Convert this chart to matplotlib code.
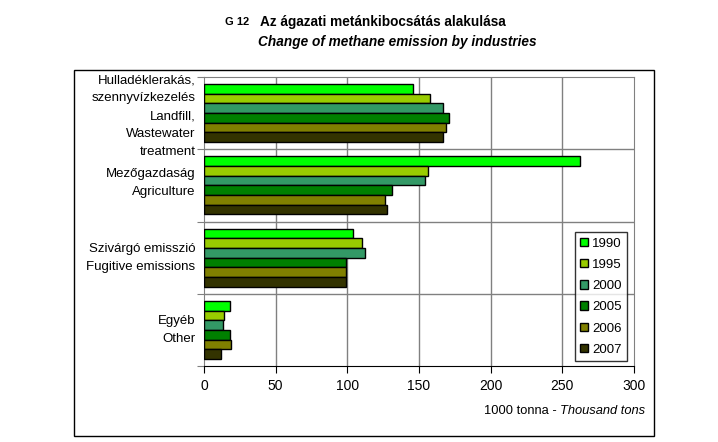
import numpy as np
import matplotlib.pyplot as plt
from matplotlib.patches import Rectangle

plt.rcParams['font.family'] = ['Liberation Sans', 'DejaVu Sans']

# Categories, top to bottom
categories = [
    "Hulladéklerakás,\nszennyvízkezelés\nLandfill,\nWastewater\ntreatment",
    "Mezőgazdaság\nAgriculture",
    "Szivárgó emisszió\nFugitive emissions",
    "Egyéb\nOther",
]
years = ["1990", "1995", "2000", "2005", "2006", "2007"]
colors = ["#00FF00", "#99CC00", "#339966", "#008000", "#808000", "#333300"]

# Values in 1000 tonnes, one list per year (same order as categories)
v1990 = [146, 262, 104, 18]
v1995 = [158, 156, 110, 14]
v2000 = [167, 154, 112, 13]
v2005 = [171, 131, 99, 18]
v2006 = [169, 126.5, 99, 19]
v2007 = [167, 127.5, 99, 12]
series = [v1990, v1995, v2000, v2005, v2006, v2007]

xticks = [0, 50, 100, 150, 200, 250, 300]

fig = plt.figure(figsize=(7.18, 4.42), dpi=100)

# outer frame
fig.patches.append(Rectangle((74 / 718, 1 - 436 / 442), 580 / 718, 366 / 442,
                             transform=fig.transFigure, fill=False,
                             edgecolor="black", linewidth=1.0))

ax = fig.add_axes([204 / 718, 1 - 366 / 442, 430 / 718, 289 / 442])

n_cat = len(categories)
n_ser = len(series)
bar_h = 0.8 / n_ser
centers = np.arange(n_cat)  # 0 at top after inversion

for j, (vals, col, yr) in enumerate(zip(series, colors, years)):
    y = centers - 0.4 + bar_h * (j + 0.5)
    ax.barh(y, vals, height=bar_h, color=col, edgecolor="black",
            linewidth=1.0, label=yr, zorder=3)

ax.set_xlim(0, 300)
ax.set_ylim(n_cat - 0.5, -0.5)
ax.set_xticks(xticks)
ax.set_xticklabels([str(t) for t in xticks], fontsize=10)
ax.tick_params(axis="x", length=5, pad=4, color="black")

# category boundaries as ticks / gridlines
bounds = np.arange(n_cat + 1) - 0.5
ax.set_yticks(bounds)
ax.set_yticklabels([])
ax.tick_params(axis="y", length=5, color="#808080")
for b in bounds[1:-1]:
    ax.axhline(b, color="#808080", linewidth=1.0, zorder=1)
for t in xticks[1:-1]:
    ax.axvline(t, color="#808080", linewidth=1.0, zorder=1)

for side in ["top", "right"]:
    ax.spines[side].set_color("#808080")
ax.spines["left"].set_color("#808080")
ax.spines["bottom"].set_color("black")

# small vertical nudges of the category labels (in category units)
label_shift = [0.04, -0.03, 0.0, 0.0]
for c, lab, dy in zip(centers, categories, label_shift):
    ax.text(-6, c + dy, lab, ha="right", va="center", fontsize=9.5,
            linespacing=1.66, transform=ax.transData)

leg = ax.legend(loc="lower right", bbox_to_anchor=(0.984, 0.017), fontsize=9.5,
                frameon=True, fancybox=False, edgecolor="black",
                handlelength=0.6, handleheight=0.6, handletextpad=0.3,
                labelspacing=0.7, borderpad=0.4, borderaxespad=0)
leg.get_frame().set_linewidth(1.0)
leg.set_zorder(5)

# titles
fig.text(225 / 718, 1 - 22 / 442, "G 12", fontsize=8, fontweight="bold", va="center")
fig.text(260 / 718, 1 - 22 / 442, "Az ágazati metánkibocsátás alakulása",
         fontsize=9.8, fontweight="bold", va="center")
fig.text(258 / 718, 1 - 42 / 442, "Change of methane emission by industries",
         fontsize=9.8, fontweight="bold", fontstyle="italic", va="center")

# x axis unit label
t1 = fig.text(484 / 718, 1 - 414 / 442, "1000 tonna - ", fontsize=9.3, va="baseline")
ax.annotate("Thousand tons", xy=(1, 0), xycoords=t1, fontsize=9.3,
            fontstyle="italic", va="bottom", ha="left", annotation_clip=False)

fig.savefig("out.png", dpi=100)
